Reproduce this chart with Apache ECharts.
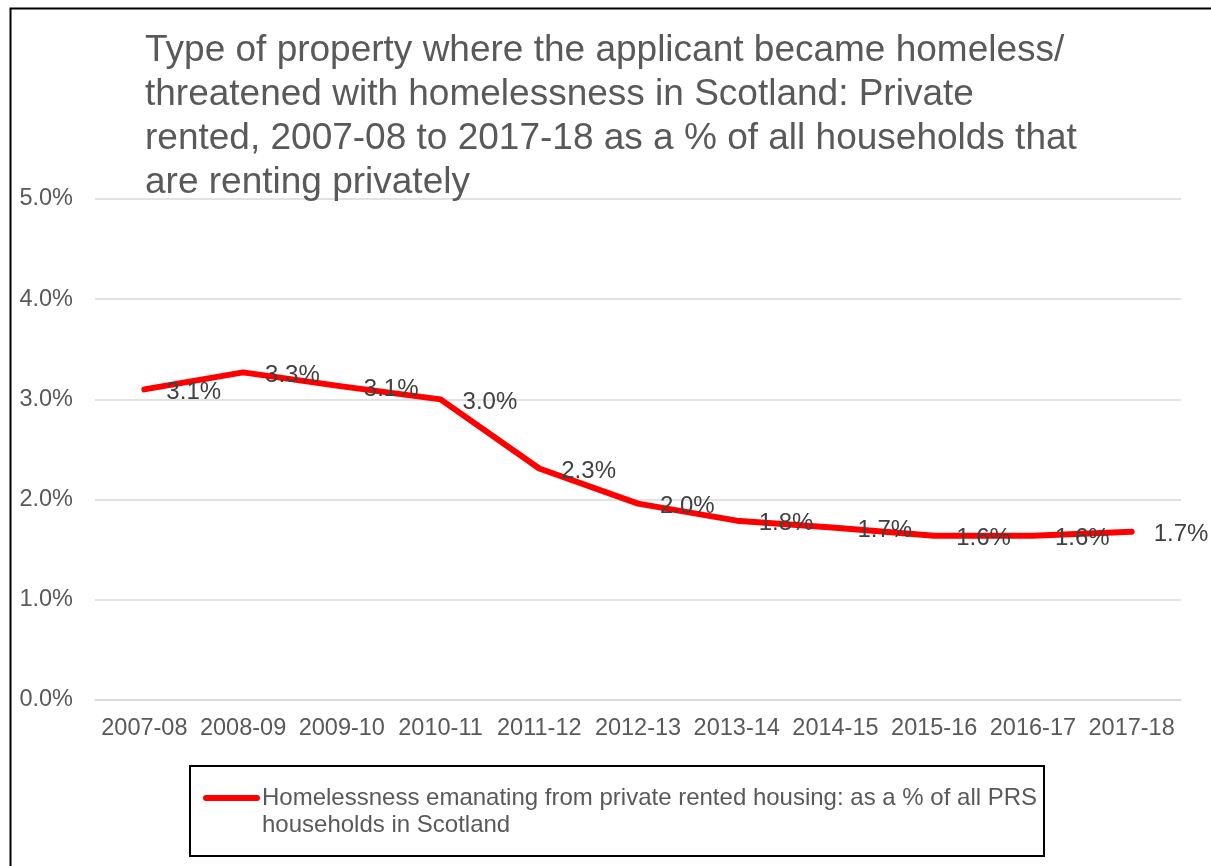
<!DOCTYPE html>
<html>
<head>
<meta charset="utf-8">
<title>Homelessness from private rented housing, Scotland</title>
<script src="https://cdn.jsdelivr.net/npm/echarts@6/dist/echarts.min.js"></script>
<style>
  html, body { margin: 0; padding: 0; background: #ffffff; }
  #chart { width: 1211px; height: 866px; }
</style>
</head>
<body>
<div id="chart"></div>
<script>
// Financial years on the category axis
const years = ['2007-08', '2008-09', '2009-10', '2010-11', '2011-12', '2012-13',
               '2013-14', '2014-15', '2015-16', '2016-17', '2017-18'];

// Homelessness emanating from private rented housing, % of all PRS households
const prsHomelessPct = [3.10, 3.27, 3.13, 3.00, 2.31, 1.96, 1.79, 1.72, 1.64, 1.64, 1.68];

// Value axis range and step (percent)
const yMin = 0;
const yMax = 5;
const yStep = 1;

const titleLines = [
  'Type of property where the applicant became homeless/',
  'threatened with homelessness in Scotland: Private',
  'rented, 2007-08 to 2017-18 as a % of all households that',
  'are renting privately'
];

const seriesName = 'Homelessness emanating from private rented housing: as a % of all PRS households in Scotland';
const legendLines = [
  'Homelessness emanating from private rented housing: as a % of all PRS',
  'households in Scotland'
];

const FONT = '"Liberation Sans", Arial, sans-serif';
const GREY = '#595959';
const LINE_RED = '#ff0000';

const chart = echarts.init(document.getElementById('chart'));

chart.setOption({
  animation: false,
  backgroundColor: '#ffffff',
  textStyle: { fontFamily: FONT },
  title: {
    text: titleLines.join('\n'),
    left: 145,
    top: 29,
    padding: 0,
    textStyle: {
      fontFamily: FONT,
      fontSize: 37,
      fontWeight: 'normal',
      color: GREY,
      lineHeight: 44
    }
  },
  grid: {
    left: 95,
    right: 30,
    top: 199,
    bottom: 166,
    containLabel: false
  },
  xAxis: {
    type: 'category',
    data: years,
    boundaryGap: true,
    axisLine: { show: true, lineStyle: { color: '#d9d9d9', width: 1.5 } },
    axisTick: { show: false },
    axisLabel: {
      color: GREY,
      fontFamily: FONT,
      fontSize: 23.5,
      margin: 17,
      interval: 0
    }
  },
  yAxis: {
    type: 'value',
    min: yMin,
    max: yMax,
    interval: yStep,
    axisLine: { show: false },
    axisTick: { show: false },
    axisLabel: {
      color: GREY,
      fontFamily: FONT,
      fontSize: 23.5,
      margin: 22,
      padding: [3, 0, 0, 0],
      formatter: v => v.toFixed(1) + '%'
    },
    splitLine: { show: true, lineStyle: { color: '#d9d9d9', width: 1.5 } }
  },
  series: [{
    name: seriesName,
    type: 'line',
    data: prsHomelessPct,
    smooth: false,
    symbol: 'circle',
    symbolSize: 2,
    itemStyle: { color: LINE_RED },
    lineStyle: { color: LINE_RED, width: 6, cap: 'round', join: 'round' },
    label: {
      show: true,
      position: 'right',
      distance: 21,
      offset: [0, 3],
      color: '#404040',
      fontFamily: FONT,
      fontSize: 24,
      formatter: p => p.value.toFixed(1) + '%'
    },
    emphasis: { disabled: true },
    z: 3
  }],
  graphic: [
    // chart frame
    {
      type: 'rect',
      left: 8,
      top: 6,
      shape: { x: 0, y: 0, width: 1300, height: 1000 },
      style: { fill: 'none', stroke: '#000000', lineWidth: 2 },
      silent: true
    },
    // legend box
    {
      type: 'group',
      left: 189,
      top: 765,
      children: [
        {
          type: 'rect',
          shape: { x: 0, y: 0, width: 854, height: 90 },
          style: { fill: '#ffffff', stroke: '#000000', lineWidth: 2 }
        },
        {
          type: 'line',
          shape: { x1: 16, y1: 32, x2: 67, y2: 32 },
          style: { stroke: LINE_RED, lineWidth: 6, lineCap: 'round' }
        },
        {
          type: 'text',
          x: 72,
          y: 19,
          style: {
            text: legendLines.join('\n'),
            font: '24px ' + FONT,
            fill: GREY,
            lineHeight: 27,
            textVerticalAlign: 'top'
          }
        }
      ]
    }
  ]
});
</script>
</body>
</html>
